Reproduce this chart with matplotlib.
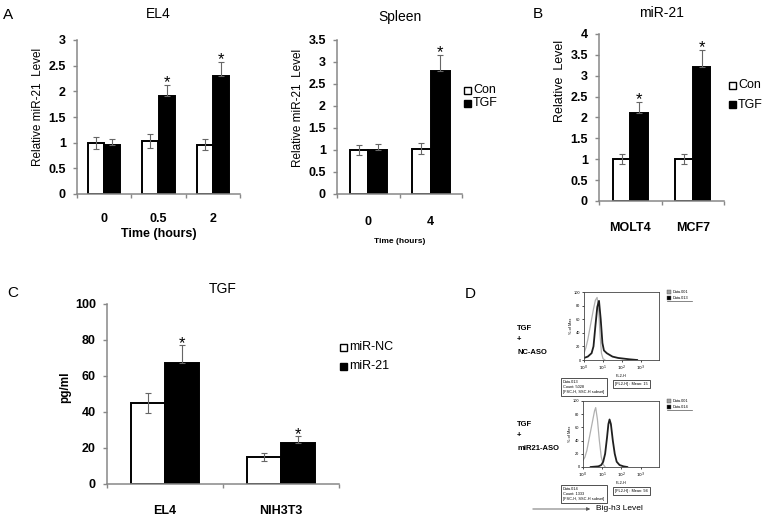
import matplotlib
matplotlib.use('Agg')
import matplotlib.pyplot as plt
from matplotlib.patches import Rectangle
from matplotlib.lines import Line2D
import numpy as np

plt.rcParams['font.family'] = ['Liberation Sans', 'DejaVu Sans']

W, H = 771, 523

# ---------------- data ----------------
el4_times = ['0', '0.5', '2']
el4_con = [1.00, 1.03, 0.96]
el4_con_err = [0.12, 0.13, 0.11]
el4_tgf = [0.95, 1.90, 2.30]
el4_tgf_err = [0.12, 0.22, 0.27]
el4_sig = [False, True, True]

spl_times = ['0', '4']
spl_con = [1.00, 1.03]
spl_con_err = [0.12, 0.12]
spl_tgf = [1.01, 2.80]
spl_tgf_err = [0.12, 0.37]
spl_sig = [False, True]

b_cells = ['MOLT4', 'MCF7']
b_con = [1.00, 1.00]
b_con_err = [0.12, 0.12]
b_tgf = [2.10, 3.20]
b_tgf_err = [0.28, 0.42]
b_sig = [True, True]

c_cells = ['EL4', 'NIH3T3']
c_nc = [45, 15]
c_nc_err = [5.5, 2.0]
c_mir = [67, 23]
c_mir_err = [10, 3.5]
c_sig = [True, True]

# flow cytometry histograms (FL2-H in log10 decades, % of max)
top_ctrl_dec = [0, 0.1, 0.2, 0.3, 0.4, 0.5, 0.6, 0.69, 0.78, 0.85, 0.92, 1.0, 1.1]
top_ctrl_pct = [10, 18, 30, 45, 60, 75, 88, 92, 70, 35, 10, 2, 0]
top_samp_dec = [0, 0.2, 0.4, 0.5, 0.6, 0.7, 0.79, 0.88, 0.97, 1.05, 1.2, 1.5, 1.8, 2.1, 2.4, 2.8]
top_samp_pct = [3, 5, 10, 20, 50, 78, 87, 60, 25, 14, 10, 5, 3, 2, 1, 0]
bot_ctrl_dec = [0, 0.1, 0.2, 0.3, 0.4, 0.5, 0.6, 0.66, 0.75, 0.85, 0.95, 1.05, 1.15]
bot_ctrl_pct = [10, 15, 25, 40, 55, 70, 85, 90, 72, 40, 15, 4, 0]
bot_samp_dec = [0.4, 0.8, 0.95, 1.05, 1.15, 1.25, 1.32, 1.38, 1.45, 1.55, 1.65, 1.75, 1.9, 2.1, 2.3]
bot_samp_pct = [0, 1, 3, 8, 20, 45, 65, 72, 65, 40, 20, 8, 3, 1, 0]


def rect(l, t, r, b):
    return [l / W, 1 - b / H, (r - l) / W, (b - t) / H]


def fx(px):
    return px / W


def fy(py):
    return 1 - py / H


fig = plt.figure(figsize=(W / 100, H / 100), dpi=100)

AX = '#888888'
TICK_FS = 9
TITLE_FS = 10
YLAB_FS = 8.5
LEG_FS = 9


def bar_panel(ax, labels, a, aerr, b, berr, sig, ymax, ystep, width=0.3,
              fmt='{:g}', tick_fs=TICK_FS, xpad=11, ypad=5):
    n = len(labels)
    x = np.arange(n) + 0.5
    ax.bar(x - width / 2, a, width, color='white', edgecolor='black', lw=1.4, zorder=2)
    ax.bar(x + width / 2, b, width, color='black', edgecolor='black', lw=1.4, zorder=2)
    ax.errorbar(x - width / 2, a, yerr=aerr, fmt='none', ecolor='#666666',
                elinewidth=0.8, capsize=2, capthick=0.8, zorder=3)
    ax.errorbar(x + width / 2, b, yerr=[np.zeros(n), berr], fmt='none', ecolor='#666666',
                elinewidth=0.8, capsize=2, capthick=0.8, zorder=3)
    for i in range(n):
        if sig[i]:
            ax.annotate('*', (x[i] + width / 2, b[i] + berr[i]), xytext=(0, 1.5),
                        textcoords='offset points', ha='center', va='center', fontsize=12)
    ax.set_xlim(0, n)
    ax.set_ylim(0, ymax)
    ax.set_xticks(np.arange(n + 1))
    ax.set_xticklabels([])
    ax.set_xticks(x, minor=True)
    ax.set_xticklabels(labels, minor=True, fontweight='bold', fontsize=tick_fs)
    ax.tick_params(axis='x', which='minor', length=0, pad=xpad)
    ax.tick_params(axis='x', which='major', length=3, direction='out', color=AX, width=1)
    yt = np.arange(0, ymax + ystep / 2, ystep)
    ax.set_yticks(yt)
    ax.set_yticklabels([fmt.format(v) for v in yt], fontweight='bold', fontsize=tick_fs)
    ax.tick_params(axis='y', length=3, direction='out', color=AX, width=1, pad=ypad)
    for s in ['top', 'right']:
        ax.spines[s].set_visible(False)
    for s in ['left', 'bottom']:
        ax.spines[s].set_color(AX)
        ax.spines[s].set_linewidth(1.1)


def legend_items(x, y0, dy, names, fs=LEG_FS, sq=7):
    for i, nm in enumerate(names):
        yy = y0 + i * dy
        fc = 'white' if i == 0 else 'black'
        fig.patches.append(Rectangle((fx(x), fy(yy + sq / 2)), sq / W, sq / H,
                                     transform=fig.transFigure, facecolor=fc,
                                     edgecolor='black', lw=1, figure=fig))
        fig.text(fx(x + sq + 2), fy(yy), nm, fontsize=fs, va='center', ha='left')


# ---------------- Panel A: EL4 ----------------
ax1 = fig.add_axes(rect(77, 40, 240, 194))
bar_panel(ax1, el4_times, el4_con, el4_con_err, el4_tgf, el4_tgf_err, el4_sig, 3, 0.5, xpad=14)
ax1.set_title('EL4', fontsize=TITLE_FS, pad=16)
ax1.set_ylabel('Relative miR-21  Level', fontsize=YLAB_FS, labelpad=3, y=0.565)
ax1.set_xlabel('Time (hours)', fontsize=9, fontweight='bold', labelpad=2)
fig.text(fx(3), fy(15), 'A', fontsize=11, va='center')

# ---------------- Panel A: Spleen ----------------
ax2 = fig.add_axes(rect(337, 40, 462, 194))
bar_panel(ax2, spl_times, spl_con, spl_con_err, spl_tgf, spl_tgf_err, spl_sig, 3.5, 0.5, xpad=16)
ax2.set_title('Spleen', fontsize=TITLE_FS, pad=14)
ax2.set_ylabel('Relative miR-21  Level', fontsize=YLAB_FS, labelpad=3, y=0.56)
ax2.set_xlabel('Time (hours)', fontsize=6, fontweight='bold', labelpad=7)
legend_items(464, 90, 13, ['Con', 'TGF'])

# ---------------- Panel B ----------------
ax3 = fig.add_axes(rect(599, 34, 724, 201))
bar_panel(ax3, b_cells, b_con, b_con_err, b_tgf, b_tgf_err, b_sig, 4, 0.5, width=0.28, xpad=15)
ax3.set_title('miR-21', fontsize=TITLE_FS, pad=12)
ax3.set_ylabel('Relative  Level', fontsize=9, labelpad=3, y=0.72)
fig.text(fx(533), fy(14), 'B', fontsize=11, va='center')
legend_items(729, 85, 20, ['Con', 'TGF'])

# ---------------- Panel C ----------------
ax4 = fig.add_axes(rect(107, 304, 339, 484))
bar_panel(ax4, c_cells, c_nc, c_nc_err, c_mir, c_mir_err, c_sig, 100, 20, width=0.29, xpad=15)
ax4.set_title('TGF', fontsize=TITLE_FS, pad=8)
ax4.set_ylabel('pg/ml', fontsize=YLAB_FS, fontweight='bold', labelpad=3, y=0.54)
fig.text(fx(7), fy(293), 'C', fontsize=11, va='center')
legend_items(340, 347, 19, ['miR-NC', 'miR-21'])

# ---------------- Panel D ----------------
fig.text(fx(465), fy(294), 'D', fontsize=11, va='center')


def flow_axes(box, ctrl_dec, ctrl_pct, samp_dec, samp_pct, names, info, mean):
    l, t, r, b = box
    ax = fig.add_axes(rect(l, t, r, b))
    ax.plot(10 ** np.array(ctrl_dec), ctrl_pct, color='#b0b0b0', lw=0.9)
    ax.plot(10 ** np.array(samp_dec), samp_pct, color='#202020', lw=1.3)
    ax.set_xscale('log')
    ax.set_xlim(1, 10 ** 3.95)
    ax.set_ylim(0, 100)
    ax.set_xticks([1, 10, 100, 1000])
    ax.set_xticklabels([r'$10^0$', r'$10^1$', r'$10^2$', r'$10^3$'], fontsize=3.2)
    ax.xaxis.set_minor_locator(matplotlib.ticker.NullLocator())
    ax.set_yticks([0, 20, 40, 60, 80, 100])
    ax.set_yticklabels(['0', '20', '40', '60', '80', '100'], fontsize=2.8)
    ax.tick_params(length=1.5, width=0.5, pad=1)
    ax.set_xlabel('FL2-H', fontsize=2.8, labelpad=1)
    ax.set_ylabel('% of Max', fontsize=2.8, labelpad=1)
    for s in ax.spines.values():
        s.set_linewidth(0.6)
        s.set_color('#444444')
    # legend
    for i, (nm, c) in enumerate(zip(names, ['#a0a0a0', 'black'])):
        yy = t + i * 6
        fig.patches.append(Rectangle((fx(667), fy(yy + 2)), 4 / W, 4 / H,
                                     transform=fig.transFigure, facecolor=c,
                                     edgecolor='#555555', lw=0.3, figure=fig))
        fig.text(fx(673), fy(yy), nm, fontsize=2.8, va='center')
    fig.lines.append(Line2D([fx(667), fx(692)], [fy(t + 9), fy(t + 9)],
                            transform=fig.transFigure, color='#555555', lw=0.5))
    # info boxes
    fig.text(fx(563), fy(b + 27), info, fontsize=2.8, va='center', ha='left',
             linespacing=1.3,
             bbox=dict(boxstyle='square,pad=0.6', fc='white', ec='#333333', lw=0.6))
    fig.text(fx(615), fy(b + 24), mean, fontsize=2.8, va='center', ha='left',
             bbox=dict(boxstyle='square,pad=0.6', fc='white', ec='#333333', lw=0.6))
    return ax


flow_axes((584, 292, 659, 360), top_ctrl_dec, top_ctrl_pct, top_samp_dec, top_samp_pct,
          ['Data.001', 'Data.013'], 'Data.013\nCount: 5028\n[FSC-H, SSC-H subset]',
          '[FL2-H] : Mean: 15')
flow_axes((583, 401, 659, 467), bot_ctrl_dec, bot_ctrl_pct, bot_samp_dec, bot_samp_pct,
          ['Data.001', 'Data.014'], 'Data.014\nCount: 1333\n[FSC-H, SSC-H subset]',
          '[FL2-H] : Mean: 94')

for yy, s in zip([328, 340, 352], ['TGF', '+', 'NC-ASO']):
    fig.text(fx(517), fy(yy), s, fontsize=5.5, fontweight='bold', va='center', ha='left')
for yy, s in zip([425, 436, 449], ['TGF', '+', 'miR21-ASO']):
    fig.text(fx(517), fy(yy), s, fontsize=5.5, fontweight='bold', va='center', ha='left')

fig.add_artist(matplotlib.patches.FancyArrowPatch(
    (fx(530), fy(509)), (fx(593), fy(509)), transform=fig.transFigure,
    arrowstyle='-|>,head_length=2,head_width=1', color='#555555', lw=0.6))
fig.text(fx(596), fy(509), 'Big-h3 Level', fontsize=6, va='center', ha='left')

fig.savefig('out.png', dpi=100, facecolor='white')
